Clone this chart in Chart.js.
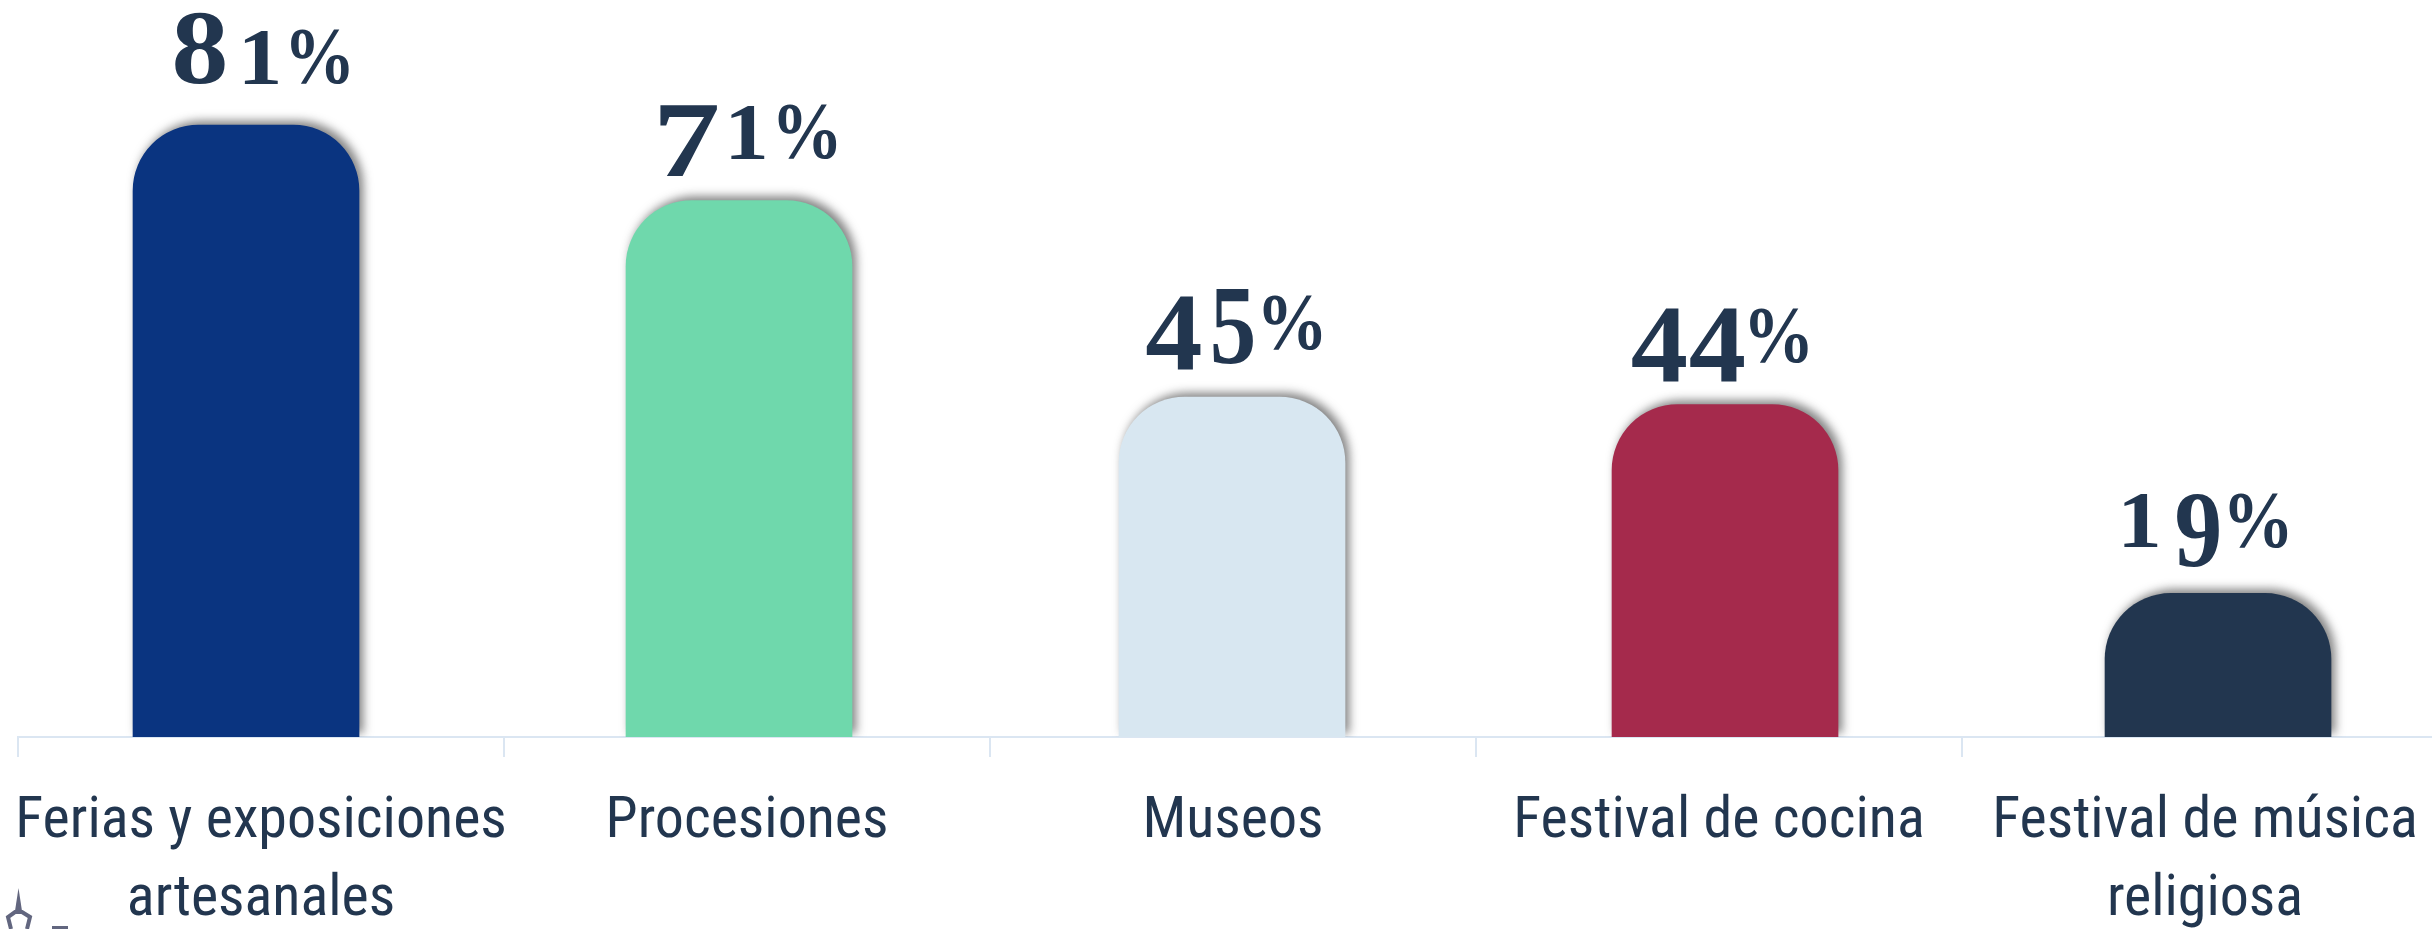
<!DOCTYPE html>
<html><head><meta charset="utf-8">
<style>html,body{margin:0;padding:0;background:#fff;overflow:hidden;width:2432px;height:929px}canvas{display:block}</style>
<script src="https://cdn.jsdelivr.net/npm/chart.js@4"></script></head>
<body><div style="position:relative;width:2450px;height:929px"><canvas id="c"></canvas></div>
<script>
const categories=[["Ferias y exposiciones","artesanales"],["Procesiones"],["Museos"],["Festival de cocina"],["Festival de música","religiosa"]];
const values=[81,71,45,44,19];
const barPositions=[0,1,2,3,4];
const barColors=["#0a3480","#6fd8ac","#d8e7f1","#a52a4c","#22364f"];
const textColor="#22364f";
const axisColor="#dbe6f2";
// value-label styling: lift above the bar, spacing between characters
const labelLift=[41,42,47,42,46];
const labelGaps=[[20,13],[14,14],[12,10],[3,5],[19,10]];
// ink box of each old-style numeral: width, height above and depth below the baseline
const glyphBox={"8":[50,71,1],"1":[33,53,0],"%":[58,54,1],"7":[58,52,19],"4":[55,52,20],"5":[40,60,14],"9":[43,53,21]};
const oldStyleLabels={id:"oldStyleLabels",afterDatasetsDraw(chart){
  const ctx=chart.ctx,meta=chart.getDatasetMeta(0),xs=chart.scales.x;
  values.forEach((v,i)=>{
    const chars=[...(v+"%")];
    const gaps=labelGaps[i];
    let w=0;chars.forEach((c,k)=>{w+=glyphBox[c][0]+(k<chars.length-1?gaps[k]:0);});
    let x=xs.getPixelForValue(i)-w/2+1;const base=meta.data[i].y-labelLift[i];
    chars.forEach((c,k)=>{
      const [gw,up,down]=glyphBox[c];
      ctx.save();ctx.fillStyle=textColor;ctx.textBaseline="alphabetic";ctx.textAlign="left";
      ctx.font='bold 100px "Liberation Serif"';
      const m=ctx.measureText(c);
      const inkW=m.actualBoundingBoxRight+m.actualBoundingBoxLeft,inkH=m.actualBoundingBoxAscent+m.actualBoundingBoxDescent;
      const sx=gw/inkW,sy=(up+down)/inkH;
      ctx.translate(x+m.actualBoundingBoxLeft*sx,base+down-m.actualBoundingBoxDescent*sy);
      ctx.scale(sx,sy);ctx.fillText(c,0,0);ctx.restore();
      x+=gw+(gaps[k]||0);
    });
  });
}};
const barShadow={id:"barShadow",
  beforeDatasetDraw(chart){const c=chart.ctx;c.save();c.shadowColor="rgba(50,50,50,0.6)";c.shadowBlur=10;c.shadowOffsetX=4;c.shadowOffsetY=-4;},
  afterDatasetDraw(chart){chart.ctx.restore();}};
// fragment of a spire logo cut off by the bottom-left corner of the picture
const cornerMark={id:"cornerMark",afterDraw(chart){
  const c=chart.ctx;c.save();c.strokeStyle="#62667f";c.fillStyle="#62667f";c.lineWidth=4;
  c.beginPath();c.moveTo(18.5,888);c.lineTo(15,911);c.lineTo(22,911);c.closePath();c.fill();
  c.beginPath();c.moveTo(11,929);c.lineTo(8,917);c.lineTo(15,912);c.lineTo(22,912);c.lineTo(30,917);c.lineTo(27,929);c.stroke();
  c.fillRect(52,926,16,3);c.restore();
}};
new Chart(document.getElementById("c"),{
  type:"bar",
  data:{labels:categories,datasets:[{
    data:barPositions.map((p,i)=>({x:p,y:values[i]})),
    backgroundColor:barColors,borderWidth:0,barThickness:226,
    borderRadius:{topLeft:66,topRight:66,bottomLeft:0,bottomRight:0},
    xAxisID:"xb",yAxisID:"y"}]},
  plugins:[barShadow,oldStyleLabels,cornerMark],
  options:{responsive:true,maintainAspectRatio:false,animation:false,
    layout:{padding:{left:18,right:2,top:0,bottom:0}},
    plugins:{legend:{display:false},tooltip:{enabled:false}},
    scales:{
      y:{min:0,max:97.54,display:false},
      xb:{type:"linear",display:false,offset:false,min:-0.4625,max:4.4665},
      x:{type:"category",labels:categories,position:"bottom",offset:true,
        afterFit(s){s.paddingLeft=0;s.paddingRight=0;s.height=192;},
        border:{color:axisColor,width:2},
        grid:{color:axisColor,lineWidth:2,tickLength:20,drawOnChartArea:false,offset:true},
        ticks:{color:textColor,maxRotation:0,minRotation:0,autoSkip:false,padding:27,
          font:{family:'"Roboto Condensed"',size:58,lineHeight:1.34}}}
    }}
});
</script></body></html>
